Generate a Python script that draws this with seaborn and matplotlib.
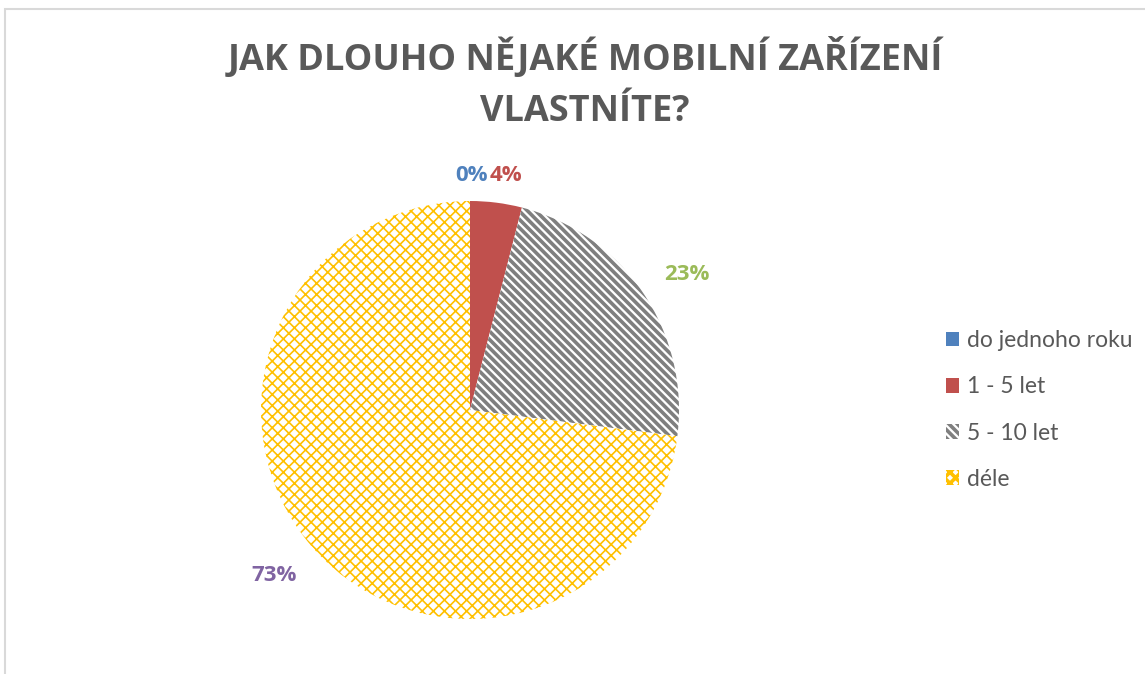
import matplotlib
matplotlib.use("Agg")
import matplotlib.pyplot as plt
import seaborn as sns
from matplotlib.patches import Patch, Rectangle

sns.set_theme(style="white")
plt.rcParams["font.family"] = ["Lato", "DejaVu Sans"]
plt.rcParams["hatch.linewidth"] = 2.6

# data
categories = ["do jednoho roku", "1 - 5 let", "5 - 10 let", "déle"]
values = [0, 4, 23, 73]
label_colors = ["#4F81BD", "#C0504D", "#9BBB59", "#8064A2"]
face_colors = ["#4F81BD", "#C0504D", "white", "white"]
hatch_colors = ["#4F81BD", "#C0504D", "#7F7F7F", "#FFC000"]
hatches = [None, None, "\\\\\\\\", "xxx"]
hatch_widths = [1.0, 1.0, 2.6, 1.2]

W, H = 1145, 674
fig = plt.figure(figsize=(W / 100, H / 100), dpi=100)

# chart border
fig.patches.append(Rectangle((5 / W, -0.05), 1.2, 1 - 9 / H + 0.05, transform=fig.transFigure,
                             fill=False, edgecolor="#D9D9D9", linewidth=1.5))

cx, cy, r = 470, 410, 209
ax = fig.add_axes([(cx - r) / W, (H - cy - r) / H, 2 * r / W, 2 * r / H])

wedges, texts, autotexts = ax.pie(values, startangle=90, counterclock=False,
                                  colors=face_colors, autopct="%.0f%%", pctdistance=1.17,
                                  wedgeprops=dict(linewidth=0))
for w, hc, h, hw in zip(wedges, hatch_colors, hatches, hatch_widths):
    w.set_edgecolor(hc)
    if h:
        w.set_hatch(h)
        if hasattr(w, "set_hatch_linewidth"):
            w.set_hatch_linewidth(hw)
for t, c in zip(autotexts, label_colors):
    t.set_color(c)
    t.set_fontsize(16)
    t.set_fontfamily(["Open Sans", "DejaVu Sans"])
    t.set_fontweight("bold")
# Excel moves the two top labels apart so they sit side by side
y_top = 1.12
autotexts[0].set_position((0.085, y_top))
autotexts[0].set_ha("right")
autotexts[1].set_position((0.095, y_top))
autotexts[1].set_ha("left")
x2, y2 = autotexts[2].get_position()
autotexts[2].set_position((x2 + 0.07, y2 - 0.01))
x3, y3 = autotexts[3].get_position()
autotexts[3].set_position((x3 - 0.06, y3 - 0.02))
ax.set_xlim(-1, 1)
ax.set_ylim(-1, 1)

fig.text(585 / W, 1 - 84 / H, "JAK DLOUHO NĚJAKÉ MOBILNÍ ZAŘÍZENÍ\nVLASTNÍTE?",
         ha="center", va="center", fontsize=26, fontweight="bold", color="#595959",
         linespacing=1.52, family=["Open Sans", "DejaVu Sans"])

handles = [Patch(facecolor=fc, edgecolor=hc, hatch=h, linewidth=0)
           for fc, hc, h in zip(face_colors, hatch_colors, hatches)]
fig.legend(handles, categories, loc="center left", bbox_to_anchor=(925 / W, 1 - 410 / H),
           frameon=False, handlelength=0.6, handleheight=0.6, handletextpad=0.35,
           labelspacing=1.1, prop={"size": 16.5}, labelcolor="#595959")

fig.savefig("out.png", dpi=100, facecolor="white")
